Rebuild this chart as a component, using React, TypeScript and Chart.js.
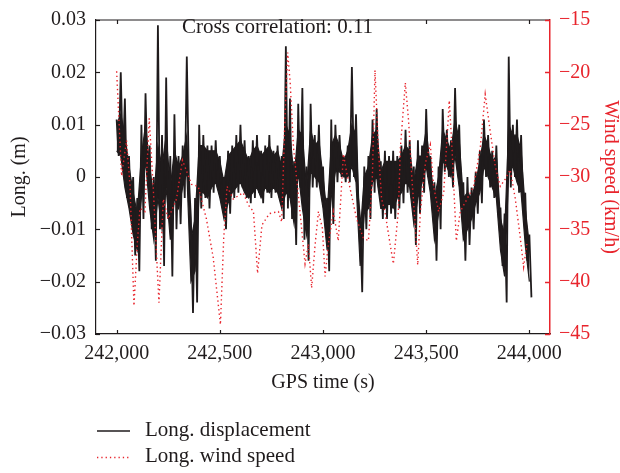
import React, { useEffect, useRef } from 'react';
import { Chart, registerables } from 'chart.js';

Chart.register(...registerables);

const FONT = '"Liberation Serif", "Times New Roman", serif';
const BLACK = '#1f1b1c';
const RED = '#e8242c';

// Axis tick labels
const xTickValues = [242000, 242500, 243000, 243500, 244000];
const leftTickValues = [-0.03, -0.02, -0.01, 0, 0.01, 0.02, 0.03];
const rightTickValues = [-45, -40, -35, -30, -25, -20, -15];

// Long. displacement (m), one sample pair every 20 s from 242,000 s
const dispStart = 242000;
// extreme upper / lower swings (spikes)
const dispHigh = [
  0.011, 0.020, 0.015, 0.004, 0.000, -0.004, 0.010, 0.016, 0.006, 0.000,
  0.029, 0.008, 0.019, 0.004, 0.012, 0.004, 0.006, 0.023, -0.008, -0.004,
  0.010, 0.008, 0.006, 0.006, 0.007, 0.004, 0.000, 0.005, 0.006, 0.008,
  0.010, 0.007, 0.004, 0.007, 0.008, 0.005, 0.006, 0.008, 0.005, 0.006,
  0.004, 0.025, 0.015, 0.003, 0.014, 0.017, 0.002, 0.014, 0.008, 0.010,
  0.002, -0.004, 0.011, 0.010, 0.008, 0.004, 0.006, 0.021, 0.012, -0.008,
  0.002, 0.004, 0.011, 0.013, 0.003, 0.005, 0.004, 0.005, 0.004, 0.006,
  0.009, 0.007, 0.002, 0.007, 0.006, 0.013, 0.004, -0.001, 0.002, 0.013,
  0.009, 0.007, 0.017, 0.010, -0.001, 0.000, -0.002, 0.001, 0.005, 0.011,
  0.008, 0.005, 0.006, -0.006, -0.007, 0.023, 0.010, 0.011, 0.008, -0.003,
  -0.011,
];
const dispLow = [
  0.004, 0.003, -0.004, -0.008, -0.015, -0.018, -0.008, 0.000, -0.010, -0.016,
  -0.010, -0.017, -0.008, -0.019, -0.010, -0.009, -0.004, 0.000, -0.026, -0.024,
  -0.006, -0.004, -0.006, -0.003, -0.002, -0.005, -0.010, -0.007, -0.004, -0.003,
  -0.002, -0.004, -0.005, -0.004, -0.003, -0.005, -0.003, -0.004, -0.003, -0.004,
  -0.008, -0.006, -0.008, -0.013, -0.002, -0.012, -0.016, -0.002, -0.002, -0.003,
  -0.008, -0.018, -0.009, -0.001, 0.000, -0.001, -0.001, 0.000, -0.004, -0.022,
  -0.010, -0.008, -0.003, -0.002, -0.008, -0.008, -0.007, -0.008, -0.006, -0.005,
  -0.003, -0.004, -0.013, -0.007, -0.003, 0.000, -0.005, -0.016, -0.010, 0.001,
  0.000, -0.002, 0.002, -0.005, -0.016, -0.013, -0.010, -0.007, -0.005, 0.000,
  -0.002, -0.004, -0.006, -0.017, -0.024, -0.002, 0.000, -0.003, -0.006, -0.016,
  -0.023,
];
// dense (solid) part of the trace
const coreHigh = [
  0.010, 0.012, 0.008, 0.002, -0.003, -0.007, 0.004, 0.010, 0.002, -0.004,
  0.006, 0.002, 0.008, -0.002, 0.005, 0.002, 0.004, 0.008, -0.012, -0.008,
  0.006, 0.006, 0.005, 0.005, 0.005, 0.003, -0.001, 0.004, 0.005, 0.006,
  0.007, 0.005, 0.003, 0.005, 0.006, 0.004, 0.005, 0.006, 0.004, 0.005,
  0.002, 0.010, 0.008, 0.000, 0.009, 0.008, -0.002, 0.009, 0.006, 0.007,
  0.000, -0.007, 0.006, 0.008, 0.006, 0.003, 0.005, 0.010, 0.008, -0.011,
  0.000, 0.002, 0.008, 0.009, 0.001, 0.003, 0.003, 0.003, 0.003, 0.004,
  0.006, 0.005, -0.001, 0.004, 0.004, 0.009, 0.002, -0.004, 0.000, 0.009,
  0.007, 0.005, 0.011, 0.007, -0.004, -0.003, -0.004, -0.001, 0.003, 0.008,
  0.006, 0.003, 0.004, -0.008, -0.011, 0.010, 0.008, 0.008, 0.005, -0.006,
  -0.013,
];
const coreLow = [
  0.005, 0.004, -0.002, -0.006, -0.011, -0.014, -0.004, 0.003, -0.006, -0.012,
  -0.004, -0.010, -0.002, -0.012, -0.004, -0.006, -0.002, 0.001, -0.020, -0.018,
  -0.003, -0.003, -0.004, -0.002, -0.001, -0.004, -0.008, -0.005, -0.003, -0.002,
  -0.001, -0.003, -0.004, -0.003, -0.002, -0.004, -0.002, -0.003, -0.002, -0.003,
  -0.006, -0.003, -0.004, -0.009, 0.001, -0.006, -0.011, 0.001, 0.000, -0.001,
  -0.006, -0.014, -0.004, 0.001, 0.001, 0.000, 0.000, 0.002, -0.001, -0.017,
  -0.007, -0.006, -0.001, 0.000, -0.006, -0.006, -0.005, -0.006, -0.004, -0.003,
  -0.001, -0.002, -0.009, -0.004, -0.001, 0.002, -0.003, -0.012, -0.007, 0.003,
  0.002, 0.000, 0.004, -0.002, -0.012, -0.010, -0.008, -0.005, -0.003, 0.002,
  0.000, -0.002, -0.004, -0.014, -0.019, 0.001, 0.002, -0.001, -0.003, -0.013,
  -0.020,
];

// Long. wind speed (km/h)
const windTime = [
  242000, 242024, 242048, 242065, 242084, 242100, 242113, 242137, 242158, 242177,
  242205, 242226, 242250, 242290, 242319, 242363, 242395, 242435, 242468, 242503,
  242519, 242535, 242565, 242613, 242639, 242663, 242683, 242704, 242740, 242784,
  242800, 242816, 242829, 242841, 242857, 242881, 242913, 242929, 242945, 242962,
  242978, 242997, 243010, 243026, 243050, 243074, 243099, 243115, 243139, 243163,
  243195, 243220, 243239, 243252, 243268, 243284, 243300, 243325, 243341, 243365,
  243375, 243399, 243415, 243431, 243448, 243459, 243472, 243496, 243520, 243536,
  243560, 243585, 243612, 243625, 243646, 243665, 243698, 243730, 243762, 243786,
  243810, 243835, 243859, 243883, 243907, 243932, 243956, 243972, 243988,
];
const windSpeed = [
  -19.9, -29.9, -26.5, -30.9, -42.3, -36.4, -33.0, -33.3, -24.4, -30.9,
  -42.0, -32.1, -34.0, -32.1, -28.4, -30.7, -30.9, -34.0, -37.7, -44.1,
  -35.8, -30.9, -32.1, -31.5, -32.7, -33.3, -39.2, -34.6, -33.5, -33.3,
  -34.3, -24.1, -18.1, -21.0, -27.2, -31.8, -38.3, -36.4, -40.6, -36.4,
  -33.3, -34.9, -39.5, -36.4, -33.3, -36.1, -27.8, -29.6, -31.8, -34.0,
  -35.8, -36.1, -30.2, -19.8, -27.2, -32.1, -33.3, -36.4, -38.3, -33.3,
  -27.2, -21.0, -24.7, -30.2, -34.9, -38.4, -33.3, -28.7, -26.9, -30.9,
  -33.3, -31.5, -22.7, -27.2, -36.1, -33.3, -32.1, -30.9, -27.2, -22.1,
  -25.6, -29.0, -30.9, -30.2, -29.3, -32.1, -35.8, -38.6, -36.4,
];

const annotationText = 'Cross correlation: 0.11';
const legendLabels = ['Long. displacement', 'Long. wind speed'];

const timeAt = (i: number) => dispStart + i * 20;
const corePoints = (arr: number[]) => arr.map((v, i) => ({ x: timeAt(i), y: v }));
const zigzagPoints = () => {
  const pts: { x: number; y: number }[] = [];
  dispHigh.forEach((hi, i) => {
    pts.push({ x: timeAt(i), y: hi });
    pts.push({ x: timeAt(i) + 10, y: dispLow[i] });
  });
  return pts;
};

const decorPlugin = {
  id: 'decor',
  afterDatasetsDraw(chart: any) {
    const { ctx, chartArea: a, scales } = chart;
    const seg = (x1: number, y1: number, x2: number, y2: number) => {
      ctx.beginPath();
      ctx.moveTo(x1, y1);
      ctx.lineTo(x2, y2);
      ctx.stroke();
    };
    ctx.save();
    ctx.strokeStyle = BLACK;
    ctx.lineWidth = 1.2;
    seg(a.left, a.top, a.right, a.top);
    scales.x.ticks.forEach((t: any) => {
      const px = Math.round(scales.x.getPixelForValue(t.value)) + 0.5;
      seg(px, a.bottom, px, a.bottom - 4);
      seg(px, a.top, px, a.top + 4);
    });
    scales.y.ticks.forEach((t: any) => {
      const py = Math.round(scales.y.getPixelForValue(t.value)) + 0.5;
      seg(a.left, py, a.left + 4, py);
    });
    ctx.strokeStyle = RED;
    ctx.lineWidth = 1.5;
    scales.y1.ticks.forEach((t: any) => {
      const py = Math.round(scales.y1.getPixelForValue(t.value)) + 0.5;
      seg(a.right, py, a.right - 5, py);
    });
    ctx.restore();
  },
  afterDraw(chart: any) {
    const { ctx } = chart;
    ctx.save();
    ctx.font = `21px ${FONT}`;
    ctx.fillStyle = BLACK;
    ctx.textBaseline = 'alphabetic';
    ctx.textAlign = 'left';
    ctx.fillText(annotationText, 182, 33);
    // legend
    ctx.strokeStyle = BLACK;
    ctx.lineWidth = 1.3;
    ctx.beginPath();
    ctx.moveTo(97, 431);
    ctx.lineTo(130, 431);
    ctx.stroke();
    ctx.fillText(legendLabels[0], 145, 436);
    ctx.strokeStyle = RED;
    ctx.setLineDash([1.3, 3]);
    ctx.beginPath();
    ctx.moveTo(97, 457.5);
    ctx.lineTo(130, 457.5);
    ctx.stroke();
    ctx.setLineDash([]);
    ctx.fillText(legendLabels[1], 145, 462);
    ctx.restore();
  },
};

const fmtLeft = (v: number) => {
  const n = Math.round(v * 100) / 100;
  if (n === 0) return '0';
  return (n < 0 ? '\u2212' : '') + Math.abs(n).toFixed(2);
};
const fmtRight = (v: number) => (v < 0 ? '\u2212' + Math.abs(v) : String(v));
const fmtX = (v: number) => Math.round(v).toLocaleString('en-US');

export default function App() {
  const ref = useRef<HTMLCanvasElement | null>(null);
  useEffect(() => {
    if (!ref.current) return;
    const chart = new Chart(ref.current, {
      type: 'line',
      data: {
        datasets: [
          {
            label: legendLabels[0] + ' (core high)',
            data: corePoints(coreHigh),
            borderColor: BLACK,
            backgroundColor: BLACK,
            borderWidth: 1.2,
            pointRadius: 0,
            tension: 0,
            fill: 1,
            yAxisID: 'y',
            order: 3,
          },
          {
            label: legendLabels[0] + ' (core low)',
            data: corePoints(coreLow),
            borderColor: BLACK,
            borderWidth: 1.2,
            pointRadius: 0,
            tension: 0,
            fill: false,
            yAxisID: 'y',
            order: 2,
          },
          {
            label: legendLabels[0],
            data: zigzagPoints(),
            borderColor: BLACK,
            borderWidth: 1.8,
            pointRadius: 0,
            tension: 0,
            fill: false,
            yAxisID: 'y',
            order: 2,
          },
          {
            label: legendLabels[1],
            data: windTime.map((t, i) => ({ x: t, y: windSpeed[i] })),
            borderColor: RED,
            borderWidth: 1.4,
            borderDash: [1.4, 3],
            pointRadius: 0,
            tension: 0,
            fill: false,
            yAxisID: 'y1',
            order: 1,
          },
        ],
      },
      options: {
        responsive: false,
        animation: false,
        devicePixelRatio: 1,
        parsing: false as any,
        layout: { padding: { top: 10, bottom: 69, left: 0, right: 0 } },
        plugins: { legend: { display: false }, tooltip: { enabled: false } },
        scales: {
          x: {
            type: 'linear',
            min: 241900,
            max: 244100,
            afterBuildTicks: (s: any) => {
              s.ticks = xTickValues.map((v) => ({ value: v }));
            },
            afterFit: (s: any) => {
              s.height = 70;
            },
            grid: { drawOnChartArea: false, drawTicks: false },
            border: { display: true, color: BLACK, width: 1.2 },
            ticks: {
              color: BLACK,
              font: { family: FONT, size: 20, lineHeight: 1 },
              padding: 10,
              maxRotation: 0,
              autoSkip: false,
              callback: (v: any) => fmtX(Number(v)),
            },
            title: {
              display: true,
              text: 'GPS time (s)',
              color: BLACK,
              font: { family: FONT, size: 20, lineHeight: 1 },
              padding: { top: 0, bottom: 11 },
            },
          },
          y: {
            type: 'linear',
            position: 'left',
            min: -0.03,
            max: 0.03,
            afterBuildTicks: (s: any) => {
              s.ticks = leftTickValues.map((v) => ({ value: v }));
            },
            afterFit: (s: any) => {
              s.width = 96;
            },
            grid: { drawOnChartArea: false, drawTicks: false },
            border: { display: true, color: BLACK, width: 1.2 },
            ticks: {
              color: BLACK,
              font: { family: FONT, size: 20, lineHeight: 1 },
              padding: 10,
              callback: (v: any) => fmtLeft(Number(v)),
            },
            title: {
              display: true,
              text: 'Long. (m)',
              color: BLACK,
              font: { family: FONT, size: 20, lineHeight: 1 },
              padding: { top: 10, bottom: 0 },
            },
          },
          y1: {
            type: 'linear',
            position: 'right',
            min: -45,
            max: -15,
            afterBuildTicks: (s: any) => {
              s.ticks = rightTickValues.map((v) => ({ value: v }));
            },
            afterFit: (s: any) => {
              s.width = 70;
            },
            grid: { drawOnChartArea: false, drawTicks: false },
            border: { display: true, color: RED, width: 1.5 },
            ticks: {
              color: RED,
              font: { family: FONT, size: 20, lineHeight: 1 },
              padding: 9,
              callback: (v: any) => fmtRight(Number(v)),
            },
            title: {
              display: true,
              text: 'Wind speed (km/h)',
              color: RED,
              font: { family: FONT, size: 20, lineHeight: 1 },
              padding: { top: 0, bottom: 0 },
            },
          },
        },
      },
      plugins: [decorPlugin],
    } as any);
    return () => chart.destroy();
  }, []);

  return (
    <div style={{ position: 'fixed', left: 0, top: 0, width: 620, height: 473, background: '#ffffff' }}>
      <canvas ref={ref} width={620} height={473} style={{ display: 'block', width: 620, height: 473 }} />
    </div>
  );
}
